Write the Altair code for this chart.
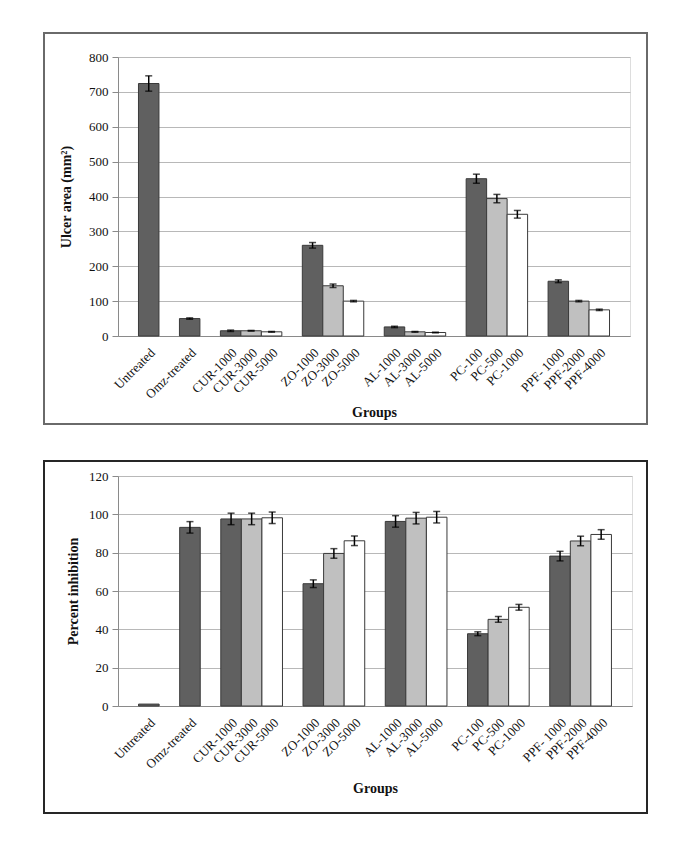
import altair as alt
import pandas as pd

# ---- data ----
bar_labels = ["Untreated", "Omz-treated",
              "CUR-1000", "CUR-3000", "CUR-5000",
              "ZO-1000", "ZO-3000", "ZO-5000",
              "AL-1000", "AL-3000", "AL-5000",
              "PC-100", "PC-500", "PC-1000",
              "PPF- 1000", "PPF-2000", "PPF-4000"]
group_sizes = [1, 1, 3, 3, 3, 3, 3]
dose_level = ["low", "low",
              "low", "mid", "high",
              "low", "mid", "high",
              "low", "mid", "high",
              "low", "mid", "high",
              "low", "mid", "high"]
ulcer_area = [724, 50, 15, 15, 12, 260, 144, 100, 26, 12, 10, 451, 394, 349, 157, 100, 75]
ulcer_err = [22, 2, 2, 1, 1, 8, 5, 2, 2, 1, 1, 13, 12, 11, 4, 2, 2]
inhibition = [1, 93.2, 97.6, 97.6, 98.2, 63.8, 79.6, 86.2, 96.3, 98.0, 98.5,
              37.7, 45.2, 51.5, 78.2, 86.1, 89.5]
inhibition_err = [0, 3, 3, 3, 3, 2, 2.5, 2.5, 3, 3, 3, 1, 1.5, 1.5, 2.5, 2.5, 2.5]

# x domain: a blank slot before every group and after the last one
slot_domain = []
i = 0
for g, n in enumerate(group_sizes):
    slot_domain.append(f"gap{g}")
    slot_domain.extend(bar_labels[i:i + n])
    i += n
slot_domain.append("gap_end")

df = pd.DataFrame({
    "label": bar_labels,
    "dose": dose_level,
    "ulcer": ulcer_area,
    "ulcer_lo": [v - e for v, e in zip(ulcer_area, ulcer_err)],
    "ulcer_hi": [v + e for v, e in zip(ulcer_area, ulcer_err)],
    "inh": inhibition,
    "inh_lo": [v - e for v, e in zip(inhibition, inhibition_err)],
    "inh_hi": [v + e for v, e in zip(inhibition, inhibition_err)],
    "inh_err": inhibition_err,
})

FONT = "Liberation Serif"


def panel(val, lo, hi, ytitle, ymax, ystep, width, height, frame, frame_color,
          title_x, title_y, err_filter=None):
    xaxis = alt.Axis(title="Groups", labelAngle=-45, ticks=False,
                     labelExpr="slice(datum.label,0,3)=='gap' ? '' : datum.label",
                     labelFont=FONT, labelFontSize=13, labelColor="#111",
                     labelPadding=10,
                     titleFont=FONT, titleFontSize=14, titleFontWeight="bold",
                     titleColor="#111", titleY=title_y, titleBaseline="middle",
                     domainColor="#8a8a8a", grid=False)
    xscale = alt.Scale(domain=slot_domain, paddingInner=0, paddingOuter=0)
    yaxis = alt.Axis(title=ytitle, values=list(range(0, ymax + 1, ystep)),
                     labelFont=FONT, labelFontSize=13, labelColor="#111",
                     tickSize=6, tickColor="#8a8a8a", labelPadding=4,
                     titleFont=FONT, titleFontSize=14, titleFontWeight="bold",
                     titleColor="#111", titleX=title_x, titleBaseline="middle",
                     domainColor="#8a8a8a", gridColor="#b8b8b8", gridWidth=1)
    yscale = alt.Scale(domain=[0, ymax], nice=False)

    def X():
        return alt.X("label:N", sort=None, scale=xscale, axis=xaxis)

    def Y(f):
        return alt.Y(f"{f}:Q", scale=yscale, axis=yaxis)

    base = alt.Chart(df)
    bars = base.mark_bar(stroke="#3a3a3a", strokeWidth=1, size=width / len(slot_domain)).encode(
        x=X(), y=Y(val),
        color=alt.Color("dose:N", legend=None,
                        scale=alt.Scale(domain=["low", "mid", "high"],
                                        range=["#606060", "#c0c0c0", "#ffffff"])),
    )
    eb = base
    if err_filter:
        eb = base.transform_filter(err_filter)
    rule = eb.mark_rule(color="#000", strokeWidth=1.5).encode(
        x=X(), y=Y(lo), y2=f"{hi}:Q")
    cap_lo = eb.mark_tick(color="#000", thickness=1.5, size=7).encode(x=X(), y=Y(lo))
    cap_hi = eb.mark_tick(color="#000", thickness=1.5, size=7).encode(x=X(), y=Y(hi))
    box = alt.Chart(pd.DataFrame({"k": [0]})).mark_rect(
        fillOpacity=0, stroke=frame_color, strokeWidth=2).encode(
        x=alt.value(frame[0]), x2=alt.value(frame[1]),
        y=alt.value(frame[2]), y2=alt.value(frame[3]))
    return alt.layer(bars, rule, cap_lo, cap_hi, box).properties(width=width, height=height)


top = panel("ulcer", "ulcer_lo", "ulcer_hi", "Ulcer area (mm²)", 800, 100,
            512, 279, (-74, 529, -24, 367), "#6a6a6a", -52, 76)
bottom = panel("inh", "inh_lo", "inh_hi", "Percent inhibition", 120, 20,
               514, 230, (-74, 529, -15, 337), "#262626", -45, 82,
               err_filter="datum.inh_err > 0")

chart = alt.vconcat(top, bottom, spacing=33).properties(
    padding={"left": 34, "top": 23, "right": 5, "bottom": 5}
).configure_view(stroke=None).configure(background="white")

chart.save("out.html", embed_options={"renderer": "svg", "actions": False})
